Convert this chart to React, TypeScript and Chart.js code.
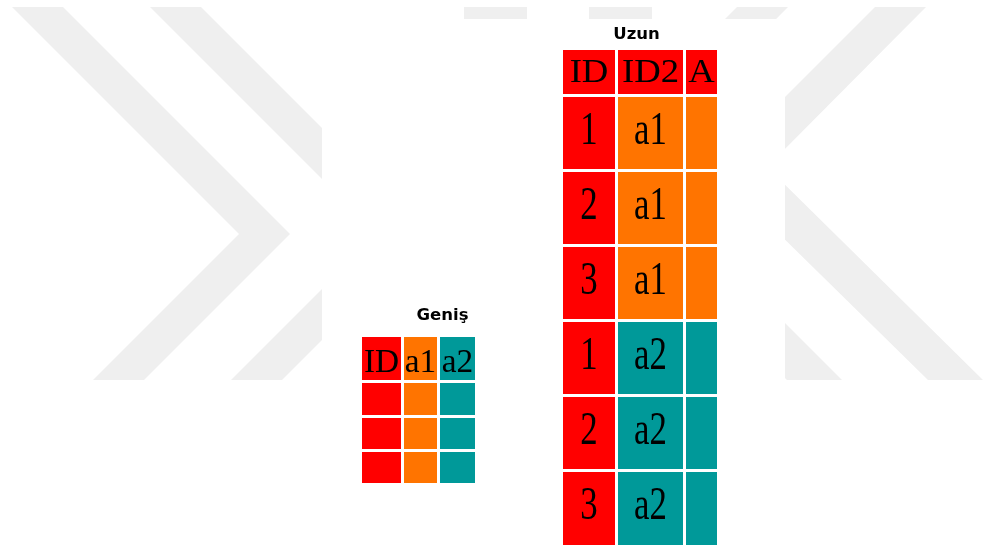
import React, { useEffect, useRef } from "react";
import { Chart, registerables } from "chart.js";

Chart.register(...registerables);

// ---------- canvas / coordinate frame ----------
const FRAME_W = 983;
const FRAME_H = 547;

// ---------- table content ----------
const WIDE_TITLE = "Geniş";
const WIDE_HEADERS = ["ID", "a1", "a2"];
const WIDE_ROW_COUNT = 3;

const LONG_TITLE = "Uzun";
const LONG_HEADERS = ["ID", "ID2", "A"];
const LONG_ID = ["1", "2", "3", "1", "2", "3"];
const LONG_ID2 = ["a1", "a1", "a1", "a2", "a2", "a2"];
const LONG_A = ["", "", "", "", "", ""];

// ---------- colours ----------
const KEY_COLORS: Record<string, string> = {
  ID: "#ff0000",
  a1: "#ff7400",
  a2: "#009999",
};
const WATERMARK_COLOR = "#efefef";

// ---------- layout (cell edges in frame units) ----------
const WIDE_COL_LEFT = [362, 404, 440];
const WIDE_COL_RIGHT = [401, 437, 475];
const WIDE_ROW_TOP = [337, 383, 418, 452];
const WIDE_ROW_BOTTOM = [380, 415, 449, 483];
const WIDE_TITLE_POS = [442.5, 320];

const LONG_COL_LEFT = [563, 618, 686];
const LONG_COL_RIGHT = [615, 683, 717];
const LONG_ROW_TOP = [50, 97, 172, 247, 322, 397, 472];
const LONG_ROW_BOTTOM = [94, 169, 244, 319, 394, 469, 545];
const LONG_TITLE_POS = [636.5, 39];

// ---------- background watermark shapes ----------
const WM_SHAPES_X = [
  [12, 63, 290, 144, 93, 239],
  [150, 201, 428, 282, 231, 377],
  [875, 926, 767, 983, 928, 713],
  [737, 788, 629, 842, 787, 575],
  [464, 527, 527, 464],
  [589, 652, 652, 589],
];
const WM_SHAPES_Y = [
  [7, 7, 234, 380, 380, 234],
  [7, 7, 234, 380, 380, 234],
  [7, 7, 167, 380, 380, 169],
  [7, 7, 167, 380, 380, 169],
  [7, 7, 30, 30],
  [7, 7, 30, 30],
];
const WM_CLEAR_X = [322, 785];
const WM_CLEAR_Y = [19, 547];

type Pt = { x: number; y: number };

function rectPts(x0: number, x1: number, y0: number, y1: number): Pt[] {
  return [
    { x: x0, y: y0 },
    { x: x1, y: y0 },
    { x: x1, y: y1 },
    { x: x0, y: y1 },
  ];
}

type Label = { text: string; x: number; y: number; font: string; sx: number };

function buildLayers() {
  const layers: { pts: Pt[]; color: string }[] = [];
  // watermark
  WM_SHAPES_X.forEach((xs, i) => {
    layers.push({
      pts: xs.map((x, j) => ({ x, y: WM_SHAPES_Y[i][j] })),
      color: WATERMARK_COLOR,
    });
  });
  layers.push({
    pts: rectPts(WM_CLEAR_X[0], WM_CLEAR_X[1], WM_CLEAR_Y[0], WM_CLEAR_Y[1]),
    color: "#ffffff",
  });

  const labels: Label[] = [];
  const serif = '"Liberation Serif", "Times New Roman", serif';
  const sans = '"DejaVu Sans", Verdana, sans-serif';

  // wide table
  for (let r = 0; r <= WIDE_ROW_COUNT; r++) {
    WIDE_HEADERS.forEach((h, c) => {
      layers.push({
        pts: rectPts(WIDE_COL_LEFT[c], WIDE_COL_RIGHT[c], WIDE_ROW_TOP[r], WIDE_ROW_BOTTOM[r]),
        color: KEY_COLORS[h],
      });
    });
  }
  WIDE_HEADERS.forEach((h, c) => {
    labels.push({
      text: h,
      x: (WIDE_COL_LEFT[c] + WIDE_COL_RIGHT[c]) / 2,
      y: WIDE_ROW_TOP[0] + 35,
      font: `34px ${serif}`,
      sx: 0.98,
    });
  });
  labels.push({
    text: WIDE_TITLE,
    x: WIDE_TITLE_POS[0],
    y: WIDE_TITLE_POS[1],
    font: `bold 16.5px ${sans}`,
    sx: 1,
  });

  // long table header
  LONG_HEADERS.forEach((h, c) => {
    layers.push({
      pts: rectPts(LONG_COL_LEFT[c], LONG_COL_RIGHT[c], LONG_ROW_TOP[0], LONG_ROW_BOTTOM[0]),
      color: KEY_COLORS.ID,
    });
    labels.push({
      text: h,
      x: (LONG_COL_LEFT[c] + LONG_COL_RIGHT[c]) / 2,
      y: LONG_ROW_TOP[0] + 32,
      font: `34px ${serif}`,
      sx: 1.08,
    });
  });
  // long table body
  LONG_ID.forEach((id, i) => {
    const r = i + 1;
    const values = [id, LONG_ID2[i], LONG_A[i]];
    const colors = [KEY_COLORS.ID, KEY_COLORS[LONG_ID2[i]], KEY_COLORS[LONG_ID2[i]]];
    values.forEach((v, c) => {
      layers.push({
        pts: rectPts(LONG_COL_LEFT[c], LONG_COL_RIGHT[c], LONG_ROW_TOP[r], LONG_ROW_BOTTOM[r]),
        color: colors[c],
      });
      if (v) {
        labels.push({
          text: v,
          x: (LONG_COL_LEFT[c] + LONG_COL_RIGHT[c]) / 2,
          y: LONG_ROW_TOP[r] + 47,
          font: `47px ${serif}`,
          sx: 0.74,
        });
      }
    });
  });
  labels.push({
    text: LONG_TITLE,
    x: LONG_TITLE_POS[0],
    y: LONG_TITLE_POS[1],
    font: `bold 16.5px ${sans}`,
    sx: 1,
  });

  return { layers, labels };
}

export default function App() {
  const canvasRef = useRef<HTMLCanvasElement | null>(null);

  useEffect(() => {
    document.body.style.margin = "0";
    const canvas = canvasRef.current;
    if (!canvas) return;
    const { layers, labels } = buildLayers();

    const datasets = layers.map((l, i) => ({
      type: "line" as const,
      data: l.pts,
      fill: "shape" as any,
      backgroundColor: l.color,
      borderColor: "rgba(0,0,0,0)",
      borderWidth: 0,
      pointRadius: 0,
      pointHoverRadius: 0,
      pointHitRadius: 0,
      tension: 0,
      order: layers.length - i,
    }));

    const labelPlugin = {
      id: "cellLabels",
      afterDatasetsDraw(chart: any) {
        const { ctx } = chart;
        const xs = chart.scales.x;
        const ys = chart.scales.y;
        ctx.save();
        ctx.fillStyle = "#000000";
        ctx.textAlign = "center";
        ctx.textBaseline = "alphabetic";
        for (const l of labels) {
          ctx.font = l.font;
          const px = xs.getPixelForValue(l.x);
          const py = ys.getPixelForValue(l.y);
          ctx.save();
          ctx.translate(px, py);
          ctx.scale(l.sx, 1);
          ctx.fillText(l.text, 0, 0);
          ctx.restore();
        }
        ctx.restore();
      },
    };

    const chart = new Chart(canvas, {
      type: "line",
      data: { datasets: datasets as any },
      options: {
        responsive: false,
        animation: false,
        events: [],
        layout: { padding: 0 },
        plugins: {
          legend: { display: false },
          tooltip: { enabled: false },
          title: { display: false },
        },
        scales: {
          x: { type: "linear", min: 0, max: FRAME_W, display: false },
          y: { type: "linear", min: 0, max: FRAME_H, reverse: true, display: false },
        },
      },
      plugins: [labelPlugin],
    });

    return () => {
      chart.destroy();
    };
  }, []);

  return (
    <div style={{ position: "fixed", left: 0, top: 0, width: FRAME_W, height: FRAME_H, background: "#ffffff" }}>
      <canvas
        ref={canvasRef}
        width={FRAME_W}
        height={FRAME_H}
        style={{ display: "block", width: FRAME_W, height: FRAME_H }}
      />
    </div>
  );
}
